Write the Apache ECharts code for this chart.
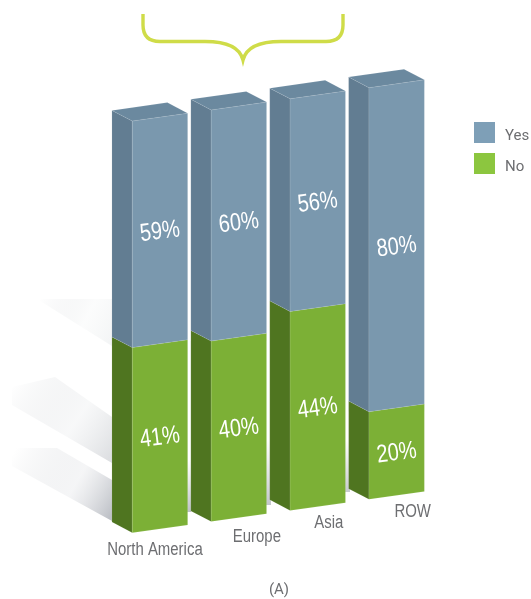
<!DOCTYPE html>
<html>
<head>
<meta charset="utf-8">
<style>html,body{margin:0;padding:0;background:#fff}#chart{width:531px;height:599px}</style>
<script src="https://cdn.jsdelivr.net/npm/echarts@6/dist/echarts.min.js"></script>
</head>
<body>
<div id="chart"></div>
<script>
// Survey results by region
const categories = ['North America', 'Europe', 'Asia', 'ROW'];
const yesValues = [59, 60, 56, 80];
const noValues = [41, 40, 44, 20];

// Column geometry: oblique projection of a box standing on the category axis
const FONT = '"Liberation Sans", Arimo, sans-serif';
const NARROW = 0.8;
const FACE_W = 55.4;
const DEPTH_X = -20.3;
const DEPTH_Y = -10.6;
const SLOPE = 0.141;
const CURVE = 0.4;
const CAPTION_DX = [-5, 18, 11, 16];
const CAPTION_DY = [21, 19, 16, 17];

const COLORS = {
  Yes: { front: '#7a98ae', side: '#627d92', top: '#6b899f', legend: '#7e9fb7' },
  No: { front: '#7cb036', side: '#4f7520', top: '#6f9f30', legend: '#8cc63f' }
};

// Maps a data value to page pixels: depth easing on the height, then the slope along x
function project(api, cat, value, dx) {
  const p = api.coord([cat, value]);
  const base = api.coord([cat, 0])[1];
  const top = api.coord([cat, 100])[1];
  const span = base - top;
  const t = (base - p[1]) / span;
  const eased = t + CURVE * t * t * (1 - t);
  const refX = api.coord([0, 0])[0] - FACE_W / 2;
  const x = p[0] + dx;
  return [x, base - span * eased - SLOPE * (x - refX)];
}

function poly(points, fill) {
  return { type: 'polygon', shape: { points }, style: { fill, stroke: 'rgba(255,255,255,0.14)', lineWidth: 0.6 } };
}

function columnRenderer(name) {
  const c = COLORS[name];
  return function (params, api) {
    const cat = api.value(0);
    const low = api.value(1);
    const high = api.value(2);
    const hw = FACE_W / 2;
    const a = project(api, cat, low, -hw);
    const b = project(api, cat, low, hw);
    const d = project(api, cat, high, -hw);
    const e = project(api, cat, high, hw);
    const back = (q) => [q[0] + DEPTH_X, q[1] + DEPTH_Y];
    const children = [
      poly([back(a), a, d, back(d)], c.side),
      poly([a, b, e, d], c.front)
    ];
    if (high === 100) {
      children.push(poly([back(d), d, e, back(e)], c.top));
    }
    // Value label centred on the front face and tilted with the slope
    const lowC = project(api, cat, low, 0);
    const highC = project(api, cat, high, 0);
    children.push({
      type: 'text',
      z2: 5,
      x: lowC[0],
      y: (lowC[1] + highC[1]) / 2 + 1.5,
      scaleX: NARROW,
      rotation: 0.125,
      style: {
        text: api.value(3) + '%',
        fill: '#ffffff',
        font: '25px ' + FONT,
        align: 'center',
        verticalAlign: 'middle'
      }
    });
    if (name === 'No') {
      children.push({
        type: 'text',
        z2: 5,
        x: lowC[0] + CAPTION_DX[cat],
        y: lowC[1] + CAPTION_DY[cat],
        scaleX: 0.83,
        style: {
          text: categories[cat],
          fill: '#6d6e71',
          font: '18px ' + FONT,
          align: 'center',
          verticalAlign: 'middle'
        }
      });
    }
    return { type: 'group', children };
  };
}

// Soft floor streaks behind the columns
function streak(points, peak, mid) {
  return {
    type: 'polygon',
    z: -1,
    silent: true,
    shape: { points },
    style: {
      fill: {
        type: 'linear', x: 0, y: 0.1, x2: 1, y2: 0.9,
        colorStops: [
          { offset: 0, color: 'rgba(205,208,212,0)' },
          { offset: 0.6, color: mid },
          { offset: 1, color: peak }
        ]
      }
    }
  };
}

// Shading seen through the narrow gaps between columns
function gapShade(x, y0, y1, peak) {
  return {
    type: 'rect',
    z: -1,
    silent: true,
    shape: { x, y: y0, width: 5, height: y1 - y0 },
    style: {
      fill: {
        type: 'linear', x: 0, y: 0, x2: 0, y2: 1,
        colorStops: [
          { offset: 0, color: 'rgba(205,208,212,0)' },
          { offset: 1, color: peak }
        ]
      }
    }
  };
}

const chart = echarts.init(document.getElementById('chart'), null, { renderer: 'canvas' });
chart.setOption({
  animation: false,
  backgroundColor: '#ffffff',
  title: {
    text: '(A)',
    left: 279,
    top: 583,
    textAlign: 'center',
    textStyle: { color: '#6d6e71', fontFamily: 'Roboto', fontSize: 15, fontWeight: 'normal' },
    padding: 0
  },
  legend: {
    orient: 'vertical',
    left: 474,
    top: 122,
    padding: 0,
    itemWidth: 21,
    itemHeight: 21,
    itemGap: 9,
    selectedMode: false,
    formatter: '{t|{name}}',
    textStyle: {
      rich: { t: { color: '#6d6e71', fontFamily: 'Roboto', fontSize: 15, padding: [8, 0, 0, 5] } }
    },
    data: [
      { name: 'Yes', icon: 'rect', itemStyle: { color: COLORS.Yes.legend } },
      { name: 'No', icon: 'rect', itemStyle: { color: COLORS.No.legend } }
    ]
  },
  grid: { left: 120.5, width: 315.6, top: 121, height: 411.7 },
  xAxis: { type: 'category', data: categories, show: false },
  yAxis: { type: 'value', min: 0, max: 100, show: false },
  graphic: {
    elements: [
      streak([[12, 448], [57, 448], [112, 480], [112, 521], [12, 466]], 'rgba(190,193,199,1)', 'rgba(238,239,241,0.6)'),
      streak([[12, 387], [55, 377], [112, 417], [112, 463], [12, 405]], 'rgba(218,220,223,0.9)', 'rgba(243,244,245,0.6)'),
      streak([[37, 299], [112, 299], [112, 346]], 'rgba(240,242,243,0.8)', 'rgba(248,249,249,0.5)'),
      gapShade(186, 460, 512, 'rgba(190,193,199,1)'),
      gapShade(266, 440, 505, 'rgba(195,198,203,1)'),
      gapShade(345, 440, 492, 'rgba(200,203,207,1)')
    ]
  },
  series: [
    {
      name: 'No',
      type: 'custom',
      clip: false,
      itemStyle: { color: COLORS.No.legend },
      renderItem: columnRenderer('No'),
      data: noValues.map((v, i) => [i, 0, v, v])
    },
    {
      name: 'Yes',
      type: 'custom',
      clip: false,
      itemStyle: { color: COLORS.Yes.legend },
      renderItem: columnRenderer('Yes'),
      data: yesValues.map((v, i) => [i, noValues[i], noValues[i] + v, v])
    },
    {
      // Curly brace spanning the regional columns
      type: 'custom',
      silent: true,
      clip: false,
      data: [0],
      renderItem: function () {
        return {
          type: 'path',
          shape: {
            pathData: 'M143,14 V25 Q143,41.5 160,41.5 H205 C228,41.5 240,48 243,60 C246,48 258,41.5 281,41.5 H326 Q343,41.5 343,25 V14',
            x: 143, y: 14, width: 200, height: 46, layout: 'cover'
          },
          style: { fill: 'none', stroke: '#cfdc48', lineWidth: 3.4 }
        };
      }
    }
  ]
});
</script>
</body>
</html>
